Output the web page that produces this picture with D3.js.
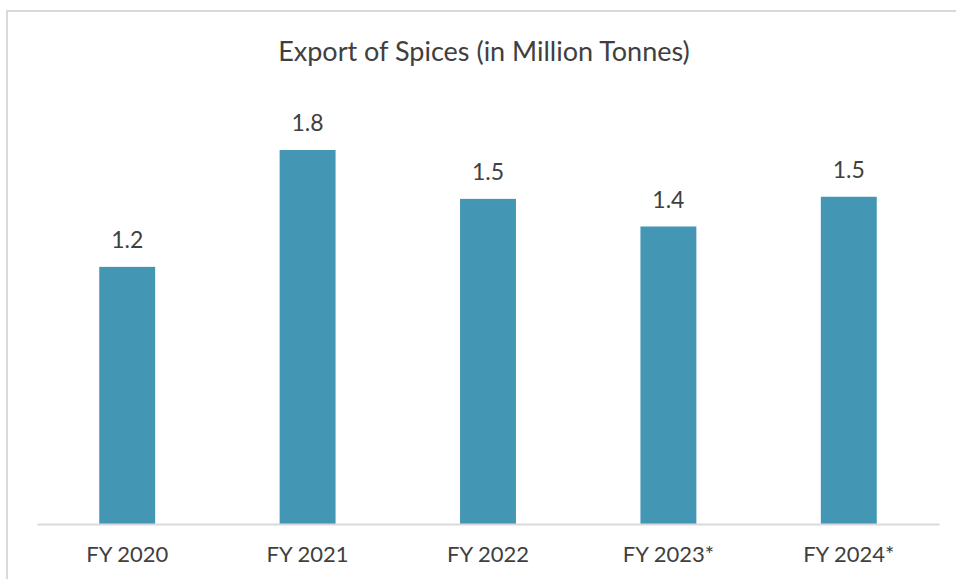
<!DOCTYPE html>
<html>
<head>
<meta charset="utf-8">
<script src="https://cdn.jsdelivr.net/npm/d3@7"></script>
<style>
  body { margin: 0; background: #fff; }
  svg text { font-family: Lato, "Open Sans", sans-serif; fill: #404040; }
</style>
</head>
<body>
<svg id="chart" width="956" height="579"></svg>
<script>
// data
const categories = ['FY 2020', 'FY 2021', 'FY 2022', 'FY 2023*', 'FY 2024*'];
const exports = [1.21, 1.76, 1.53, 1.40, 1.54];
const labels = ['1.2', '1.8', '1.5', '1.4', '1.5'];

const svg = d3.select('#chart');

// outer frame (runs off the right and bottom edges)
svg.append('rect')
  .attr('x', 7)
  .attr('y', 11)
  .attr('width', 1000)
  .attr('height', 600)
  .attr('fill', 'none')
  .attr('stroke', '#d9d9d9')
  .attr('stroke-width', 2);

svg.append('text')
  .text('Export of Spices (in Million Tonnes)')
  .attr('x', 484)
  .attr('y', 61)
  .attr('text-anchor', 'middle')
  .style('font-size', '27px');

const x = d3.scaleBand()
  .domain(categories)
  .range([37, 939])
  .paddingInner(0.69)
  .paddingOuter(0.345);

const y = d3.scaleLinear()
  .domain([0, 2])
  .range([524, 99]);

const data = categories.map((c, i) => ({ cat: c, val: exports[i], label: labels[i] }));

svg.selectAll('rect.bar')
  .data(data)
  .enter()
  .append('rect')
  .attr('class', 'bar')
  .attr('x', d => x(d.cat))
  .attr('y', d => y(d.val))
  .attr('width', x.bandwidth())
  .attr('height', d => y(0) - y(d.val))
  .attr('fill', '#4397b5');

svg.selectAll('text.val')
  .data(data)
  .enter()
  .append('text')
  .attr('class', 'val')
  .text(d => d.label)
  .attr('x', d => x(d.cat) + x.bandwidth() / 2)
  .attr('y', d => y(d.val) - 19)
  .attr('text-anchor', 'middle')
  .style('font-size', '23px');

// baseline + category labels
const xAxis = svg.append('g')
  .attr('transform', `translate(0,${y(0)})`)
  .call(d3.axisBottom(x).tickSize(0).tickPadding(22));

xAxis.select('.domain')
  .attr('stroke', '#d9d9d9')
  .attr('stroke-width', 2);

xAxis.selectAll('text')
  .style('font-size', '22px')
  .style('font-family', 'Lato, "Open Sans", sans-serif')
  .attr('fill', '#404040');
</script>
</body>
</html>
